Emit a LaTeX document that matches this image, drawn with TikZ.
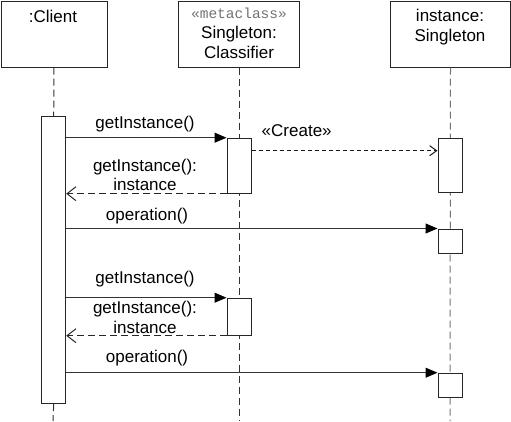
\documentclass[tikz,border=0pt]{standalone}
\usepackage{fontspec}
\setmainfont{Liberation Sans}
\newfontfamily\monof{Liberation Mono}
\usetikzlibrary{arrows.meta}
\begin{document}
\begin{tikzpicture}[x=1pt,y=-1pt,
  font=\fontsize{17}{20}\selectfont,
  head/.style={draw=black!85, line width=1pt, fill=white, minimum width=#1, minimum height=66, inner sep=0, anchor=north west},
  act/.style={draw=black!85, line width=1pt, fill=white, minimum width=24, minimum height=#1, inner sep=0, anchor=north},
  life/.style={draw=black!80, line width=1pt, dash pattern=on 7pt off 4pt},
  txt/.style={inner sep=0, anchor=base},
  msg/.style={draw=black!80, line width=1pt, -{Triangle[length=12pt,width=10pt,color=black,fill=black]}},
  ret/.style={draw=black!85, line width=1pt, dash pattern=on 7pt off 4pt, -{Straight Barb[length=9pt,width=14pt,line width=1pt]}},
  cre/.style={draw=black!90, line width=1pt, dash pattern=on 4pt off 3pt, -{Straight Barb[length=7pt,width=10pt,line width=1pt]}}]
\useasboundingbox (0,0) rectangle (511,421);
% heads
\node[head=106] (hc) at (0.5,0.5) {};
\node[head=121] (hs) at (178,0.5) {};
\node[head=120] (hi) at (390,0.5) {};
\node[txt] (tc) at (53,22) {:Client};
\node[txt, text=black!55, font=\monof\fontsize{14.5}{16}\selectfont] (tm) at (239,18.5) {«metaclass»};
\node[txt] (ts1) at (239,38.5) {Singleton:};
\node[txt] (ts2) at (239,58.5) {Classifier};
\node[txt] (ti1) at (450,21.5) {instance:};
\node[txt] (ti2) at (450,41.5) {Singleton};
% lifeline ends
\coordinate (ec) at (53,421);
\coordinate (es) at (239,421);
\coordinate (ei) at (450,421);
\draw[life] (hs.south) -- (es);
\draw[life, draw=black!55] (hi.south) -- (ei);
% activations
\node[act=287] (ca) at (53.7,116) {};
\draw[life] (hc.south) -- (ca.north);
\draw[life] (ca.south) -- (ec);
\node[act=55] (a1) at (239,137.7) {};
\node[act=37] (a2) at (239,297.7) {};
\node[act=54] (i1) at (450,138.3) {};
\node[act=24] (i2) at (450,228.5) {};
\node[act=24] (i3) at (450,372.7) {};
% messages
\coordinate (cr) at (0,150.7);
\draw[msg] (ca.east |- a1.north) -- (a1.north west);
\draw[ret] (a1.south west) -- (ca.east |- a1.south);
\draw[cre] (a1.east |- cr) -- (i1.west |- cr);
\draw[msg] (ca.east |- i2.north) -- (i2.north west);
\draw[msg] (ca.east |- a2.north) -- (a2.north west);
\draw[ret] (a2.south west) -- (ca.east |- a2.south);
\draw[msg] (ca.east |- i3.north) -- (i3.north west);
% labels
\node[txt] (l1) at (145,128) {getInstance()};
\node[txt] (l2a) at (145,171.5) {getInstance():};
\node[txt] (l2b) at (145,190.7) {instance};
\node[txt] (l3) at (296.7,136) {«Create»};
\node[txt] (l4) at (147,220) {operation()};
\node[txt] (l5) at (145,283.7) {getInstance()};
\node[txt] (l6a) at (145,313.5) {getInstance():};
\node[txt] (l6b) at (145,333.3) {instance};
\node[txt] (l7) at (147,362) {operation()};
\end{tikzpicture}
\end{document}
